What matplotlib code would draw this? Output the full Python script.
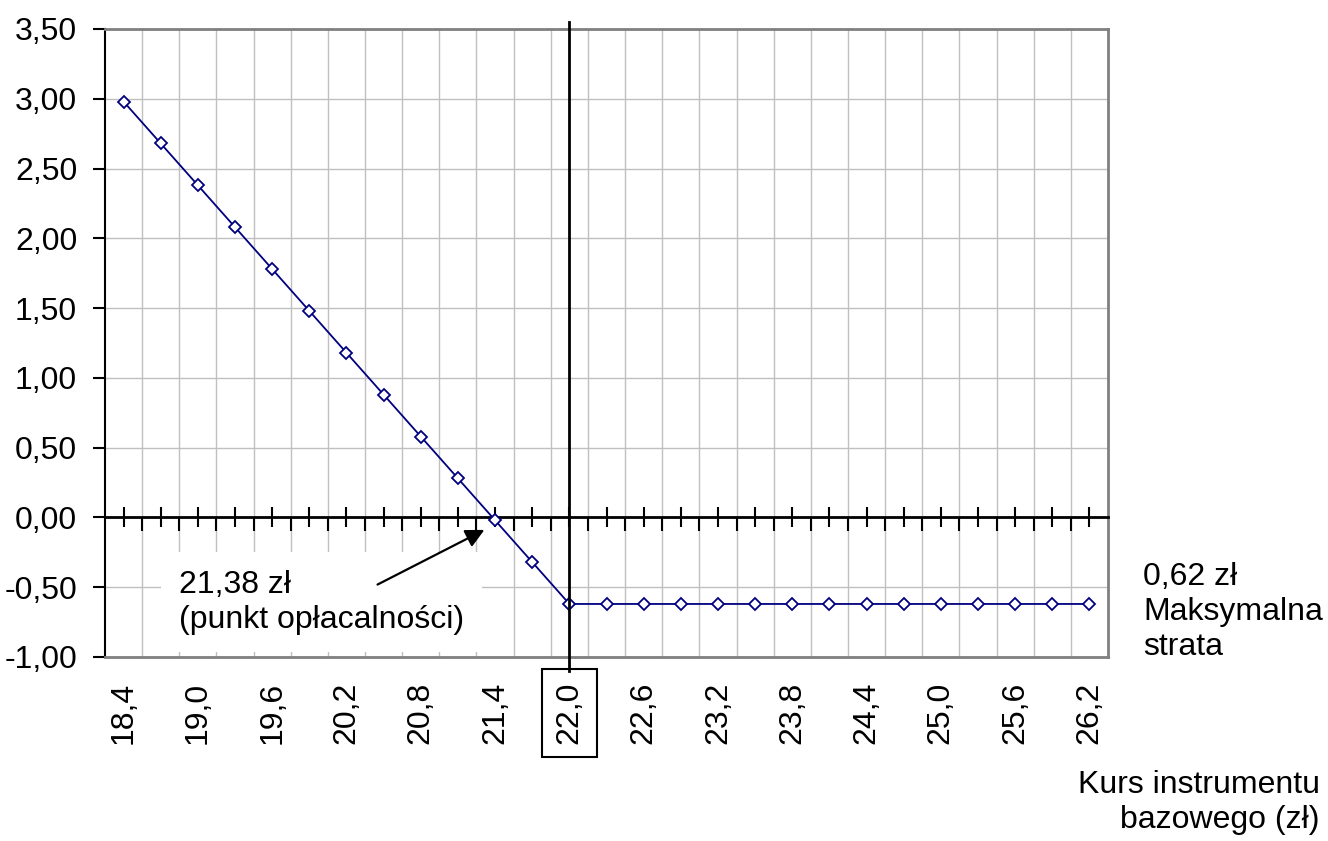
import matplotlib
matplotlib.use('Agg')
import matplotlib.pyplot as plt
import numpy as np

# ---- data ----
prices = ['18,4', '18,7', '19,0', '19,3', '19,6', '19,9', '20,2', '20,5', '20,8',
          '21,1', '21,4', '21,7', '22,0', '22,3', '22,6', '22,9', '23,2', '23,5',
          '23,8', '24,1', '24,4', '24,7', '25,0', '25,3', '25,6', '25,9', '26,2']
profit = [2.98, 2.68, 2.38, 2.08, 1.78, 1.48, 1.18, 0.88, 0.58,
          0.28, -0.02, -0.32, -0.62, -0.62, -0.62, -0.62, -0.62, -0.62,
          -0.62, -0.62, -0.62, -0.62, -0.62, -0.62, -0.62, -0.62, -0.62]
ytick_values = [-1.0, -0.5, 0.0, 0.5, 1.0, 1.5, 2.0, 2.5, 3.0, 3.5]
ytick_labels = ['-1,00', '-0,50', '0,00', '0,50', '1,00', '1,50', '2,00', '2,50', '3,00', '3,50']
strike_label = '22,0'
breakeven_text = '21,38 zł\n(punkt opłacalności)'
max_loss_text = '0,62 zł\nMaksymalna\nstrata'
xlabel_text = 'Kurs instrumentu\nbazowego (zł)'

plt.rcParams['font.family'] = ['Liberation Sans', 'DejaVu Sans']
FS = 23

W, H = 1328, 841
fig = plt.figure(figsize=(W / 100, H / 100), dpi=100)
L, R, T, B = 105, 1108, 29, 657
ax = fig.add_axes([L / W, 1 - B / H, (R - L) / W, (B - T) / H])

x = np.arange(len(prices))
ax.plot(x, profit, color='#000080', lw=1.3, marker='D', ms=6.5,
        mfc='white', mec='#000080', mew=1.3, zorder=5, clip_on=False)

ax.set_xlim(-0.5, len(prices) - 0.5)
ax.set_ylim(ytick_values[0], ytick_values[-1])
ax.set_yticks(ytick_values, ytick_labels)
ax.set_xticks(x[::2], prices[::2], rotation=90)
ax.set_xticks(x[:-1] + 0.5, minor=True)

ax.grid(False)
ax.xaxis.grid(True, which='minor', color='#c0c0c0', lw=1)
ax.yaxis.grid(True, which='major', color='#c0c0c0', lw=1)
ax.set_axisbelow(True)

ax.tick_params(axis='x', which='both', length=0, pad=18, labelsize=FS)
ax.tick_params(axis='y', which='major', length=9, width=1.5, pad=11,
               labelsize=FS, direction='out', color='black')
for s in ['top', 'right', 'bottom']:
    ax.spines[s].set_color('#808080')
    ax.spines[s].set_linewidth(2)
ax.spines['left'].set_color('black')
ax.spines['left'].set_linewidth(1.5)

# zero axis with ticks
ymin, ymax = ax.get_ylim()
zero_frac = (0 - ymin) / (ymax - ymin)
sec = ax.secondary_xaxis(zero_frac)
sec.set_zorder(3)
sec.set_xticks(x[:-1] + 0.5)
sec.set_xticks(x, minor=True)
sec.tick_params(which='major', direction='out', length=10, width=1.5, labelbottom=False, labeltop=False)
sec.tick_params(which='minor', direction='inout', length=14, width=1.5, labelbottom=False, labeltop=False)
for s in sec.spines.values():
    s.set_color('black')
    s.set_linewidth(2)

# strike vertical line
idx = prices.index(strike_label)
ax.axvline(idx, ymin=-(671 - B) / (B - T), ymax=1 + (T - 22) / (B - T),
           color='black', lw=2, clip_on=False, zorder=6)

for lab in ax.get_xticklabels():
    if lab.get_text() == strike_label:
        lab.set_bbox(dict(boxstyle='square,pad=0.4', fc='none', ec='black', lw=1.5))

# breakeven annotation
ax.text(1.49, -0.608, breakeven_text, fontsize=FS, ha='left', va='center',
        zorder=3.5, linespacing=1.22,
        bbox=dict(boxstyle='square,pad=0.55', fc='white', ec='none'))
ax.annotate('', xy=(9.78, -0.08), xytext=(6.77, -0.49),
            arrowprops=dict(arrowstyle='-|>', color='black', lw=1.6, mutation_scale=28),
            zorder=4)

fig.text(1143 / W, 1 - 612 / H, max_loss_text, fontsize=FS, ha='left', va='center',
         linespacing=1.22)
fig.text(1320 / W, 1 - 802.5 / H, xlabel_text, fontsize=FS, ha='right', va='center',
         multialignment='right', linespacing=1.22)

fig.savefig('out.png', dpi=100)
